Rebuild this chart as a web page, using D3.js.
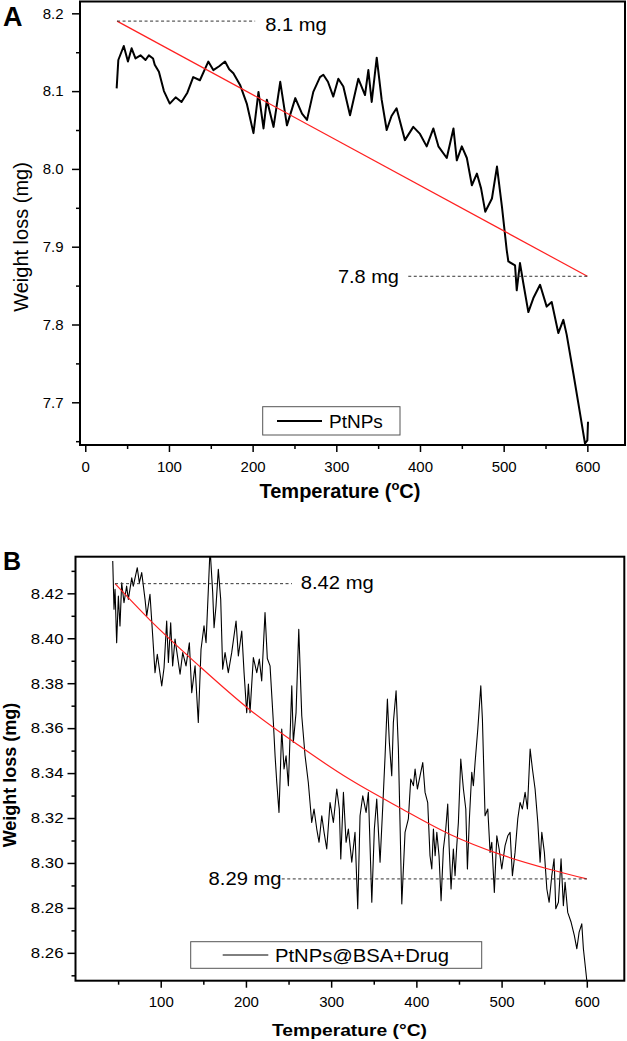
<!DOCTYPE html>
<html><head><meta charset="utf-8">
<script src="https://cdn.jsdelivr.net/npm/d3@7"></script>
<style>
body{margin:0;background:#fff}
svg{display:block}
text{font-family:"Liberation Sans",Arial,Helvetica,sans-serif;fill:#000}
</style></head><body>
<svg id="c" width="627" height="1041"></svg>
<script>
// ---------- Panel A data (PtNPs) ----------
const tempA = [37.5,39.5,46,51,55.4,60,66,72,76,81,83,88,94,101,108,115,122,129,137,147,153,160,167,172,177,185,193,201,207,213,217,225,233,241,251,259,265,272.5,280.5,284.5,290,296.4,302.4,308.4,316.4,326.3,334.3,338.3,342.3,348.3,354.2,360.2,366,372,382,392,400,408,416,422,432,440,444,450,456,462,468,473,478,486,492,498,503.6,505.6,513.6,515.6,519.5,523.5,529.5,535.5,543.5,551.4,557.4,565.3,571.3,575.3,583.3,591.2,597.2,600,600.8];
const weightA = [8.1036,8.140,8.158,8.138,8.155,8.142,8.146,8.140,8.146,8.142,8.134,8.125,8.100,8.084,8.092,8.086,8.098,8.118,8.114,8.138,8.127,8.132,8.138,8.128,8.123,8.108,8.084,8.046,8.099,8.052,8.089,8.054,8.112,8.056,8.091,8.071,8.063,8.099,8.118,8.121,8.112,8.093,8.116,8.106,8.069,8.116,8.095,8.127,8.086,8.143,8.089,8.050,8.068,8.078,8.037,8.054,8.045,8.029,8.052,8.029,8.014,8.052,8.011,8.029,8.014,7.979,7.994,7.975,7.945,7.962,8.003,7.951,7.896,7.881,7.876,7.844,7.879,7.853,7.816,7.834,7.851,7.823,7.829,7.789,7.806,7.787,7.737,7.686,7.647,7.651,7.675];
const fitTempA = [38, 600];
const fitWeightA = [8.19, 7.862];
const xTicksA = [0,100,200,300,400,500,600];
const xMinorA = [50,150,250,350,450,550];
const yTicksA = [7.7,7.8,7.9,8.0,8.1,8.2];
const yMinorA = [7.65,7.75,7.85,7.95,8.05,8.15];
const annotA = [{label:"8.1 mg", value:8.19}, {label:"7.8 mg", value:7.862}];

// ---------- Panel B data (PtNPs@BSA+Drug) ----------
const tempB = [43.7,45.2,46.4,48.3,50.3,52.2,54.2,56.9,60,62,66,67.8,72.5,74.9,77.7,81.6,83.6,87.4,90.6,93.3,96,101.2,103.9,107,109,111.7,114,116.8,122.7,125.8,129.7,133.6,136.4,140.3,144.1,147.3,150.8,153.2,155.9,157.9,161,162.6,164.9,167.6,170.4,172.7,175.5,179.3,183.3,188.4,191.1,195.1,197.8,200.9,202.9,204.8,208.7,212.7,215.7,218.5,222.4,225.1,228.3,232.2,234.2,236.2,238.8,242,244.7,247.1,249.8,253.8,255.6,258.8,262,265.5,269.4,273.2,277.2,279.9,283.1,285.8,289,291.7,294.8,298.7,302.6,306.6,309.6,311.3,314.4,317.5,320.2,324.2,328,331.2,333.9,337.1,341,343.7,347.7,350.7,353.5,357.4,360.6,363.3,366,368.3,371.1,373,376.2,378.9,382.9,386.7,390.6,393.4,396.5,398.5,401.2,404.3,407.5,410.2,413.3,416,418.1,420,422,424,426.6,429,431.7,434.5,436.8,438.4,440.7,443.4,445.4,447.4,449.3,452.1,455.2,458,459.9,462.2,465,466.9,468.9,472.1,475.6,477.5,480.6,483.8,486.5,488.5,491.5,494.4,497.1,500.2,504.1,507.3,510,512.7,515.8,519,521.7,524.4,527.6,530.3,533.5,536.2,539.3,542.5,545.2,547.2,550.2,553.1,555.8,558.9,561.6,563.6,566.7,569.8,572.5,574.5,577.6,581.6,585.4,588.3,591,594.1,596,600];
const weightB = [8.4344,8.4129,8.4218,8.398,8.4188,8.4055,8.4247,8.4158,8.4232,8.4173,8.4269,8.4232,8.4314,8.4247,8.4292,8.4173,8.4099,8.4196,8.401,8.3847,8.3929,8.3788,8.3869,8.4077,8.3892,8.4069,8.3877,8.3996,8.384,8.3936,8.3877,8.398,8.3758,8.3877,8.3625,8.3951,8.4055,8.398,8.4218,8.440,8.4203,8.4047,8.4144,8.4307,8.4173,8.3862,8.3936,8.3847,8.3936,8.4077,8.3921,8.4032,8.3847,8.3669,8.3796,8.3669,8.3914,8.3847,8.3907,8.381,8.4114,8.391,8.3877,8.3625,8.3477,8.3358,8.3225,8.3596,8.3418,8.3477,8.3344,8.3788,8.3536,8.3669,8.404,8.3655,8.3477,8.3358,8.318,8.324,8.3151,8.3092,8.321,8.3136,8.3062,8.3269,8.318,8.3329,8.324,8.3018,8.3314,8.3092,8.3151,8.3003,8.3136,8.2796,8.321,8.3299,8.3225,8.3314,8.2825,8.3151,8.3284,8.3003,8.3255,8.3477,8.3729,8.3536,8.3388,8.3625,8.3766,8.3507,8.2818,8.3136,8.3196,8.3373,8.3344,8.3418,8.3329,8.3388,8.3447,8.3314,8.3269,8.3032,8.2973,8.3151,8.3032,8.3136,8.3032,8.2832,8.3062,8.3151,8.3262,8.3077,8.2884,8.3062,8.2943,8.3077,8.318,8.3462,8.3329,8.324,8.2973,8.3196,8.3403,8.3344,8.3447,8.3596,8.3788,8.364,8.321,8.324,8.3047,8.3092,8.2869,8.3121,8.3062,8.2973,8.3077,8.3121,8.3136,8.2943,8.3047,8.3196,8.3269,8.324,8.3314,8.324,8.3507,8.3418,8.3329,8.318,8.3003,8.3136,8.3047,8.2884,8.2825,8.2943,8.3018,8.2796,8.2825,8.3018,8.281,8.2914,8.278,8.2736,8.2677,8.2618,8.2692,8.2729,8.2618,8.2477];
const fitTempB = [46.4,87.4,146,204.8,263.5,322.2,381,439.7,498.4,557,600];
const fitWeightB = [8.4243,8.4081,8.3874,8.3681,8.3519,8.3371,8.3245,8.3127,8.3038,8.2971,8.2929];
const xTicksB = [100,200,300,400,500,600];
const xMinorB = [50,150,250,350,450,550];
const yTicksB = [8.26,8.28,8.30,8.32,8.34,8.36,8.38,8.40,8.42];
const yMinorB = [8.25,8.27,8.29,8.31,8.33,8.35,8.37,8.39,8.41,8.43];
const annotB = [{label:"8.42 mg", value:8.4243}, {label:"8.29 mg", value:8.2929}];

const svg = d3.select("#c");

function fitWidth(sel, w){
  sel.attr("textLength", w).attr("lengthAdjust","spacingAndGlyphs");
}
function stretch(sel, k){
  sel.each(function(){
    const w = this.getComputedTextLength();
    d3.select(this).attr("textLength", w*k).attr("lengthAdjust","spacingAndGlyphs");
  });
}

function drawAxes(g, x, y, o){
  g.append("g").attr("transform",`translate(0,${o.bottom})`)
    .call(d3.axisBottom(x).tickValues(o.xMinor).tickSize(4).tickFormat(""))
    .call(s=>s.select(".domain").remove());
  g.append("g").attr("transform",`translate(${o.left},0)`)
    .call(d3.axisLeft(y).tickValues(o.yMinor.filter(v=>v>=y.domain()[0]&&v<=y.domain()[1])).tickSize(4).tickFormat(""))
    .call(s=>s.select(".domain").remove());
  const xa = g.append("g").attr("class","xa").attr("transform",`translate(0,${o.bottom})`)
    .call(d3.axisBottom(x).tickValues(o.xTicks).tickSize(7).tickPadding(o.xPad).tickFormat(d3.format("d")))
    .call(s=>s.select(".domain").remove());
  const ya = g.append("g").attr("class","ya").attr("transform",`translate(${o.left},0)`)
    .call(d3.axisLeft(y).tickValues(o.yTicks).tickSize(8).tickPadding(o.yPad).tickFormat(d3.format(o.yFmt)))
    .call(s=>s.select(".domain").remove());
  g.selectAll(".tick line").attr("stroke","#000").attr("stroke-width",1.5);
  g.selectAll(".tick text").attr("font-size",15).attr("font-family",null).attr("fill","#000");
  g.append("rect").attr("x",o.left).attr("y",o.top).attr("width",o.right-o.left).attr("height",o.bottom-o.top)
    .attr("fill","none").attr("stroke","#000").attr("stroke-width",2);
  return {xa, ya};
}

// ================= Panel A =================
{
  const o = {left:80, right:625, top:1.5, bottom:445, xTicks:xTicksA, xMinor:xMinorA, yTicks:yTicksA, yMinor:yMinorA, xPad:9, yPad:8.5, yFmt:".1f"};
  const x = d3.scaleLinear().domain([-6.3,645]).range([o.left,o.right]);
  const y = d3.scaleLinear().domain([7.6451,8.2152]).range([o.bottom,o.top]);
  const g = svg.append("g");
  g.append("clipPath").attr("id","clipA").append("rect").attr("x",o.left).attr("y",o.top).attr("width",o.right-o.left).attr("height",o.bottom-o.top);

  const line = d3.line().x(d=>x(d[0])).y(d=>y(d[1]));
  g.append("path").attr("clip-path","url(#clipA)")
    .attr("d", line(tempA.map((t,i)=>[t,weightA[i]])))
    .attr("fill","none").attr("stroke","#000").attr("stroke-width",2).attr("stroke-linejoin","round");
  g.append("path").attr("d", line(fitTempA.map((t,i)=>[t,fitWeightA[i]])))
    .attr("fill","none").attr("stroke","#ff2020").attr("stroke-width",1.2);

  const a1 = annotA[0], a2 = annotA[1];
  g.append("line").attr("x1",x(fitTempA[0])).attr("x2",x(203)).attr("y1",y(a1.value)).attr("y2",y(a1.value))
    .attr("stroke","#333").attr("stroke-width",1).attr("stroke-dasharray","3,2.5");
  g.append("text").attr("x",x(215)).attr("y",y(a1.value)+10).attr("font-size",19).text(a1.label).call(fitWidth,61.5);
  g.append("line").attr("x1",x(386)).attr("x2",x(fitTempA[1])).attr("y1",y(a2.value)).attr("y2",y(a2.value))
    .attr("stroke","#333").attr("stroke-width",1).attr("stroke-dasharray","3,2.5");
  g.append("text").attr("x",x(374.8)).attr("y",y(a2.value)+7).attr("font-size",19).attr("text-anchor","end").text(a2.label).call(fitWidth,61);

  drawAxes(g, x, y, o);

  g.append("rect").attr("x",262.7).attr("y",406.7).attr("width",137.3).attr("height",28.3)
    .attr("fill","#fff").attr("stroke","#555").attr("stroke-width",1);
  g.append("line").attr("x1",277).attr("x2",322).attr("y1",421).attr("y2",421).attr("stroke","#000").attr("stroke-width",2);
  g.append("text").attr("x",329).attr("y",428.3).attr("font-size",19).text("PtNPs");

  g.append("text").attr("transform","translate(28,237) rotate(-90)").attr("text-anchor","middle")
    .attr("font-size",20).text("Weight loss (mg)");
  const xt = g.append("text").attr("x",340).attr("y",498).attr("text-anchor","middle")
    .attr("font-size",20).attr("font-weight","bold");
  xt.append("tspan").text("Temperature (");
  xt.append("tspan").attr("font-size",13).attr("dy",-8).text("o");
  xt.append("tspan").attr("dy",8).text("C)");

  g.append("text").attr("x",3).attr("y",26).attr("font-family","'Liberation Serif','Times New Roman',serif")
    .attr("font-weight","bold").attr("font-size",27).text("A");
}

// ================= Panel B =================
{
  const o = {left:75.5, right:624.3, top:556.7, bottom:980.7, xTicks:xTicksB, xMinor:xMinorB, yTicks:yTicksB, yMinor:yMinorB, xPad:8.3, yPad:4, yFmt:".2f"};
  const x = d3.scaleLinear().domain([0,644]).range([o.left,o.right]);
  const y = d3.scaleLinear().domain([8.2476,8.4363]).range([o.bottom,o.top]);
  const g = svg.append("g");
  g.append("clipPath").attr("id","clipB").append("rect").attr("x",o.left).attr("y",o.top).attr("width",o.right-o.left).attr("height",o.bottom-o.top);

  const line = d3.line().x(d=>x(d[0])).y(d=>y(d[1]));
  g.append("path").attr("clip-path","url(#clipB)")
    .attr("d", line(tempB.map((t,i)=>[t,weightB[i]])))
    .attr("fill","none").attr("stroke","#000").attr("stroke-width",1.1).attr("stroke-linejoin","round");
  g.append("path").attr("d", d3.line().curve(d3.curveMonotoneX).x(d=>x(d[0])).y(d=>y(d[1]))(fitTempB.map((t,i)=>[t,fitWeightB[i]])))
    .attr("fill","none").attr("stroke","#ff2020").attr("stroke-width",1.2);

  const a1 = annotB[0], a2 = annotB[1];
  g.append("line").attr("x1",x(fitTempB[0])).attr("x2",x(254)).attr("y1",y(a1.value)).attr("y2",y(a1.value))
    .attr("stroke","#333").attr("stroke-width",1).attr("stroke-dasharray","3,2.5");
  g.append("text").attr("x",x(264.3)).attr("y",y(a1.value)+5.8).attr("font-size",18).text(a1.label).call(fitWidth,73);
  g.append("line").attr("x1",x(242)).attr("x2",x(fitTempB[fitTempB.length-1])).attr("y1",y(a2.value)).attr("y2",y(a2.value))
    .attr("stroke","#333").attr("stroke-width",1).attr("stroke-dasharray","3,2.5");
  g.append("text").attr("x",x(241.8)).attr("y",y(a2.value)+5.8).attr("font-size",18).attr("text-anchor","end").text(a2.label).call(fitWidth,73);

  const ax = drawAxes(g, x, y, o);
  ax.ya.selectAll(".tick text").call(stretch,1.12);

  g.append("rect").attr("x",190.7).attr("y",941.7).attr("width",291).attr("height",26.6)
    .attr("fill","#fff").attr("stroke","#555").attr("stroke-width",1);
  g.append("line").attr("x1",222.7).attr("x2",268.3).attr("y1",955).attr("y2",955).attr("stroke","#000").attr("stroke-width",1);
  g.append("text").attr("x",275).attr("y",961.7).attr("font-size",18).text("PtNPs@BSA+Drug").call(fitWidth,174);

  g.append("text").attr("transform","translate(16,775) rotate(-90)").attr("text-anchor","middle")
    .attr("font-size",18).attr("font-weight","bold").text("Weight loss (mg)");
  g.append("text").attr("x",349.5).attr("y",1036).attr("text-anchor","middle")
    .attr("font-size",17).attr("font-weight","bold").text("Temperature (°C)").call(fitWidth,155);

  g.append("text").attr("x",3).attr("y",570).attr("font-family","'Liberation Serif','Times New Roman',serif")
    .attr("font-weight","bold").attr("font-size",25).text("B");
}
</script>
</body></html>
